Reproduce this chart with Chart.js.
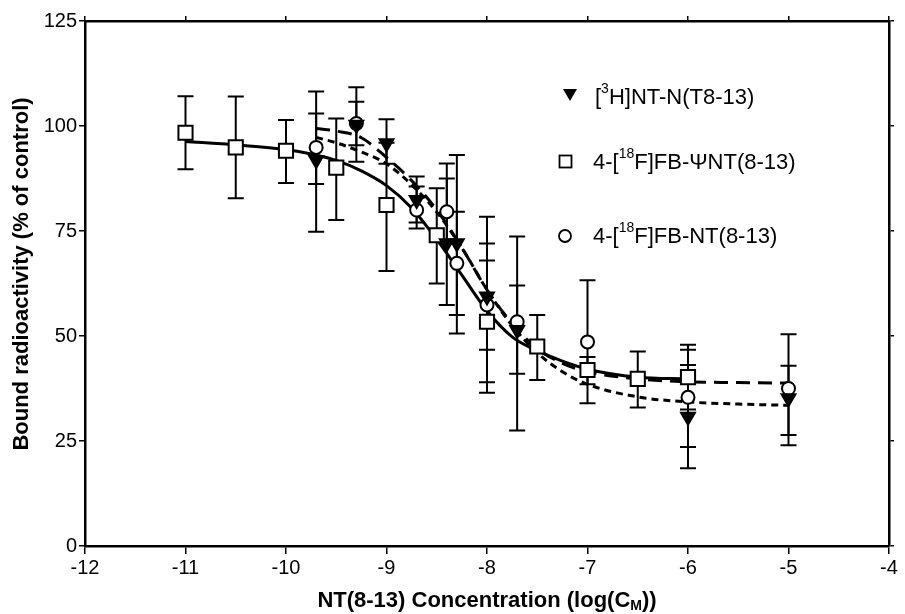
<!DOCTYPE html>
<html>
<head>
<meta charset="utf-8">
<script src="https://cdn.jsdelivr.net/npm/chart.js@4"></script>
<style>
  body { margin: 0; background: #fff; }
  #chart { display: block; }
</style>
</head>
<body>
<canvas id="chart" width="905" height="614"></canvas>
<script>
/* measured points, log(C_M) vs % bound */
var xTicks = [-12, -11, -10, -9, -8, -7, -6, -5, -4];
var yTicks = [0, 25, 50, 75, 100, 125];

var sqX  = [-11, -10.5, -10, -9.5, -9, -8.5, -8, -7.5, -7, -6.5, -6];
var sqY  = [98.4, 94.9, 94.1, 90.1, 81.2, 74.0, 53.4, 47.5, 41.9, 39.8, 40.2];
var sqHi = [107.1, 107.0, 101.4, 101.8, 96.0, 85.2, 68.0, 55.0, 45.0, 46.3, 47.9];
var sqLo = [89.7, 82.8, 86.4, 77.6, 65.5, 62.5, 39.0, 39.5, 38.5, 33.0, 32.5];

var ciX  = [-9.7, -9.3, -8.7, -8.4, -8.3, -8.0, -7.7, -7.0, -6.0, -5.0];
var ciY  = [94.9, 100.6, 80.0, 79.6, 67.3, 57.4, 53.4, 48.6, 35.4, 37.5];
var ciHi = [103.0, 105.8, 85.6, 87.5, 79.6, 78.4, 73.7, 63.3, 46.7, 50.4];
var ciLo = [86.2, 95.4, 75.6, 72.0, 55.0, 36.5, 27.5, 34.0, 23.6, 24.0];

var trX  = [-9.7, -9.3, -9.0, -8.7, -8.4, -8.3, -8.0, -7.7, -6.0, -5.0];
var trY  = [91.9, 100.3, 95.9, 82.4, 72.1, 72.1, 59.4, 51.4, 30.8, 35.2];
var trHi = [108.2, 109.2, 101.6, 88.0, 91.1, 93.1, 72.0, 62.0, 43.1, 42.9];
var trLo = [74.8, 91.5, 91.0, 77.0, 57.4, 50.6, 46.7, 41.0, 18.5, 26.4];

/* fitted curves */
var fitSqX = [-11, -10.5, -10, -9.7, -9.5, -9.25, -9.0, -8.75, -8.5, -8.25, -8.0, -7.75, -7.5, -7.25, -7.0, -6.5, -6.0];
var fitSqY = [96.3, 95.5, 94.4, 93.1, 91.8, 89.3, 85.8, 80.5, 73.0, 64.5, 56.0, 49.8, 46.5, 44.0, 42.1, 40.2, 39.8];

var fitLongX = [-9.7, -9.5, -9.25, -9.0, -8.75, -8.5, -8.25, -8.0, -7.75, -7.5, -7.25, -7.0, -6.5, -6.0, -5.5, -5.0];
var fitLongY = [99.4, 98.8, 97.2, 92.5, 87.0, 80.0, 71.0, 61.0, 53.0, 47.0, 43.5, 41.5, 39.8, 39.1, 38.9, 38.8];

var fitShortX = [-9.7, -9.5, -9.25, -9.0, -8.75, -8.5, -8.25, -8.0, -7.75, -7.5, -7.25, -7.0, -6.5, -6.0, -5.5, -5.0];
var fitShortY = [97.3, 96.0, 93.8, 91.0, 86.0, 79.5, 71.0, 61.0, 52.5, 46.0, 41.5, 38.5, 35.5, 34.3, 33.8, 33.5];

function pts(xs, ys) {
  return xs.map(function(x, i) { return {x: x, y: ys[i]}; });
}

var errSets = [
  {x: sqX, hi: sqHi, lo: sqLo},
  {x: ciX, hi: ciHi, lo: ciLo},
  {x: trX, hi: trHi, lo: trLo}
];

var FONT = '"Liberation Sans", Arial, sans-serif';
var NARROW = '"Liberation Sans Narrow", "Liberation Sans", sans-serif';

/* error bars drawn just before the first marker set (index 2 is drawn first) */
var errorBars = {
  id: 'errorBars',
  beforeDatasetDraw: function(chart, args) {
    if (args.index !== 2) return;
    var ctx = chart.ctx, xs = chart.scales.x, ys = chart.scales.y;
    ctx.save();
    ctx.strokeStyle = '#000';
    ctx.lineWidth = 2;
    errSets.forEach(function(s) {
      s.x.forEach(function(x, i) {
        var px = xs.getPixelForValue(x);
        var top = ys.getPixelForValue(s.hi[i]);
        var bot = ys.getPixelForValue(s.lo[i]);
        ctx.beginPath();
        ctx.moveTo(px, top); ctx.lineTo(px, bot);
        ctx.moveTo(px - 8, top); ctx.lineTo(px + 8, top);
        ctx.moveTo(px - 8, bot); ctx.lineTo(px + 8, bot);
        ctx.stroke();
      });
    });
    ctx.restore();
  }
};

function supText(ctx, parts, x, y, size) {
  // parts: [text, isSuper]
  parts.forEach(function(p) {
    if (p[1]) {
      ctx.font = Math.round(size * 0.62) + 'px ' + FONT;
      ctx.fillText(p[0], x, y - size * 0.4);
    } else {
      ctx.font = size + 'px ' + FONT;
      ctx.fillText(p[0], x, y);
    }
    x += ctx.measureText(p[0]).width;
  });
}

/* legend, axis titles */
var decorations = {
  id: 'decorations',
  afterDraw: function(chart) {
    var ctx = chart.ctx;
    ctx.save();
    ctx.fillStyle = '#000';
    ctx.strokeStyle = '#000';
    ctx.textBaseline = 'middle';
    ctx.textAlign = 'left';

    // legend markers
    ctx.beginPath();
    ctx.moveTo(563, 89); ctx.lineTo(577, 89); ctx.lineTo(570, 101);
    ctx.closePath(); ctx.fill();
    ctx.lineWidth = 1.8;
    ctx.strokeRect(559.5, 155.5, 12, 12);
    ctx.beginPath(); ctx.arc(565, 236, 6, 0, Math.PI * 2); ctx.stroke();

    supText(ctx, [['[', 0], ['3', 1], ['H]NT-N(T8-13)', 0]], 595, 98, 22);
    supText(ctx, [['4-[', 0], ['18', 1], ['F]FB-\u03A8NT(8-13)', 0]], 593, 163, 22);
    supText(ctx, [['4-[', 0], ['18', 1], ['F]FB-NT(8-13)', 0]], 593, 237, 22);

    // x title with subscript
    var xt1 = 'NT(8-13) Concentration (log(C', xt2 = 'M', xt3 = '))';
    var bf = 'bold 22px ' + NARROW;
    var sf = 'bold 14px ' + NARROW;
    ctx.font = bf; var w1 = ctx.measureText(xt1).width, w3 = ctx.measureText(xt3).width;
    ctx.font = sf; var w2 = ctx.measureText(xt2).width;
    var sx = 487 - (w1 + w2 + w3) / 2, sy = 601;
    ctx.font = bf; ctx.fillText(xt1, sx, sy);
    ctx.font = sf; ctx.fillText(xt2, sx + w1, sy + 5);
    ctx.font = bf; ctx.fillText(xt3, sx + w1 + w2, sy);

    // y title
    ctx.translate(22, 274);
    ctx.rotate(-Math.PI / 2);
    ctx.textAlign = 'center';
    ctx.font = 'bold 22px ' + FONT;
    ctx.fillText('Bound radioactivity (% of control)', 0, 0);
    ctx.restore();
  }
};

function markerSet(label, xs, ys, style, radius, fill, rot) {
  return {
    label: label,
    data: pts(xs, ys),
    showLine: false,
    pointStyle: style,
    pointRadius: radius,
    pointRotation: rot || 0,
    pointBackgroundColor: fill,
    pointBorderColor: '#000',
    pointBorderWidth: 2
  };
}

function curveSet(label, xs, ys, dash) {
  return {
    label: label,
    data: pts(xs, ys),
    showLine: true,
    pointRadius: 0,
    borderColor: '#000',
    borderWidth: 3,
    borderDash: dash,
    cubicInterpolationMode: 'monotone',
    fill: false
  };
}

function fixedSize(prop, v) {
  return function(scale) { scale[prop] = v; };
}

function tickList(vals) {
  return function(s) { s.ticks = vals.map(function(v) { return {value: v}; }); };
}

var ctx = document.getElementById('chart');
var chart = new Chart(ctx, {
  type: 'scatter',
  data: {
    datasets: [
      markerSet('[3H]NT-N(T8-13)', trX, trY, 'triangle', 8, '#000', 180),
      markerSet('4-[18F]FB-\u03A8NT(8-13)', sqX, sqY, 'rect', 10, '#fff'),
      markerSet('4-[18F]FB-NT(8-13)', ciX, ciY, 'circle', 6.5, '#fff'),
      curveSet('fit1', fitSqX, fitSqY, []),
      curveSet('fit2', fitLongX, fitLongY, [14, 8]),
      curveSet('fit3', fitShortX, fitShortY, [7, 5])
    ]
  },
  options: {
    responsive: false,
    devicePixelRatio: 1,
    animation: false,
    layout: { padding: 0 },
    plugins: {
      legend: { display: false },
      tooltip: { enabled: false }
    },
    scales: {
      x: {
        type: 'linear', position: 'bottom', min: -12, max: -4,
        afterBuildTicks: tickList(xTicks),
        afterFit: fixedSize('height', 68),
        ticks: { color: '#000', font: { family: FONT, size: 20 }, padding: 2 },
        grid: { drawOnChartArea: false, tickLength: 8, color: '#000', lineWidth: 1.5 },
        border: { color: '#000', width: 2.5 }
      },
      x2: {
        type: 'linear', position: 'top', min: -12, max: -4,
        afterBuildTicks: tickList(xTicks),
        afterFit: fixedSize('height', 21),
        ticks: { display: false },
        grid: { drawOnChartArea: false, tickLength: 5, color: '#000', lineWidth: 1.5 },
        border: { color: '#000', width: 2.5 }
      },
      y: {
        type: 'linear', position: 'left', min: 0, max: 125,
        afterBuildTicks: tickList(yTicks),
        afterFit: fixedSize('width', 85),
        ticks: { color: '#000', font: { family: FONT, size: 20 }, padding: 2 },
        grid: { drawOnChartArea: false, tickLength: 6, color: '#000', lineWidth: 1.5 },
        border: { color: '#000', width: 2.5 }
      },
      y2: {
        type: 'linear', position: 'right', min: 0, max: 125,
        afterBuildTicks: tickList(yTicks),
        afterFit: fixedSize('width', 16),
        ticks: { display: false },
        grid: { drawOnChartArea: false, tickLength: 5, color: '#000', lineWidth: 1.5 },
        border: { color: '#000', width: 2.5 }
      }
    }
  },
  plugins: [errorBars, decorations]
});
</script>
</body>
</html>
